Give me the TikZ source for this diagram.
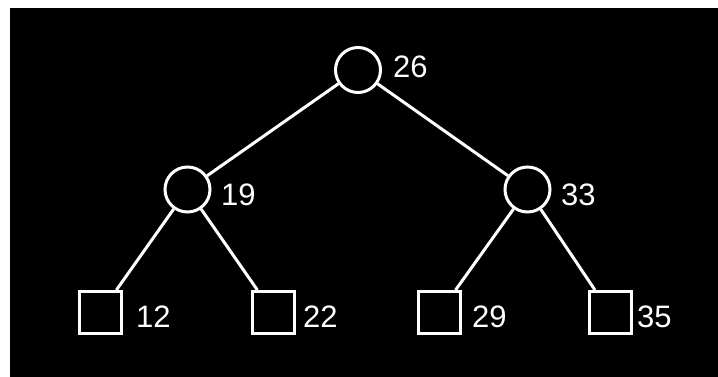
\documentclass[tikz,border=0pt]{standalone}
\usepackage{fontspec}
\setmainfont{Liberation Sans}
\begin{document}
\begin{tikzpicture}[x=1pt,y=-1pt,
  inner/.style={circle,draw=white,line width=3pt,minimum size=45pt,inner sep=0pt},
  leaf/.style={rectangle,draw=white,line width=3pt,minimum size=42pt,inner sep=0pt},
  edge/.style={draw=white,line width=3pt},
  lbl/.style={text=white,font=\fontsize{31}{31}\selectfont,inner sep=0pt,anchor=base west}]
\useasboundingbox (0,0) rectangle (718,377);
\fill[white] (0,0) rectangle (718,377);
\fill[black] (10,8) rectangle (718,377);
\node[inner] (r) at (358,70) {};
\node[inner] (a) at (187.5,189.5) {};
\node[inner] (b) at (527.5,189.5) {};
\node[leaf] (l1) at (100.5,312.5) {};
\node[leaf] (l2) at (273,312.5) {};
\node[leaf] (l3) at (439.5,312.5) {};
\node[leaf] (l4) at (610,312.5) {};
\draw[edge] (r) -- (a);
\draw[edge] (r) -- (b);
\draw[edge] (a) -- (l1);
\draw[edge] (a) -- (l2);
\draw[edge] (b) -- (l3);
\draw[edge] (b) -- (l4);
\node[lbl] (t26) at (393,78) {26};
\node[lbl] (t19) at (221,205) {19};
\node[lbl] (t33) at (561,205) {33};
\node[lbl] (t12) at (136,327) {12};
\node[lbl] (t22) at (303,327) {22};
\node[lbl] (t29) at (472,327) {29};
\node[lbl] (t35) at (637,327) {35};
\end{tikzpicture}
\end{document}
